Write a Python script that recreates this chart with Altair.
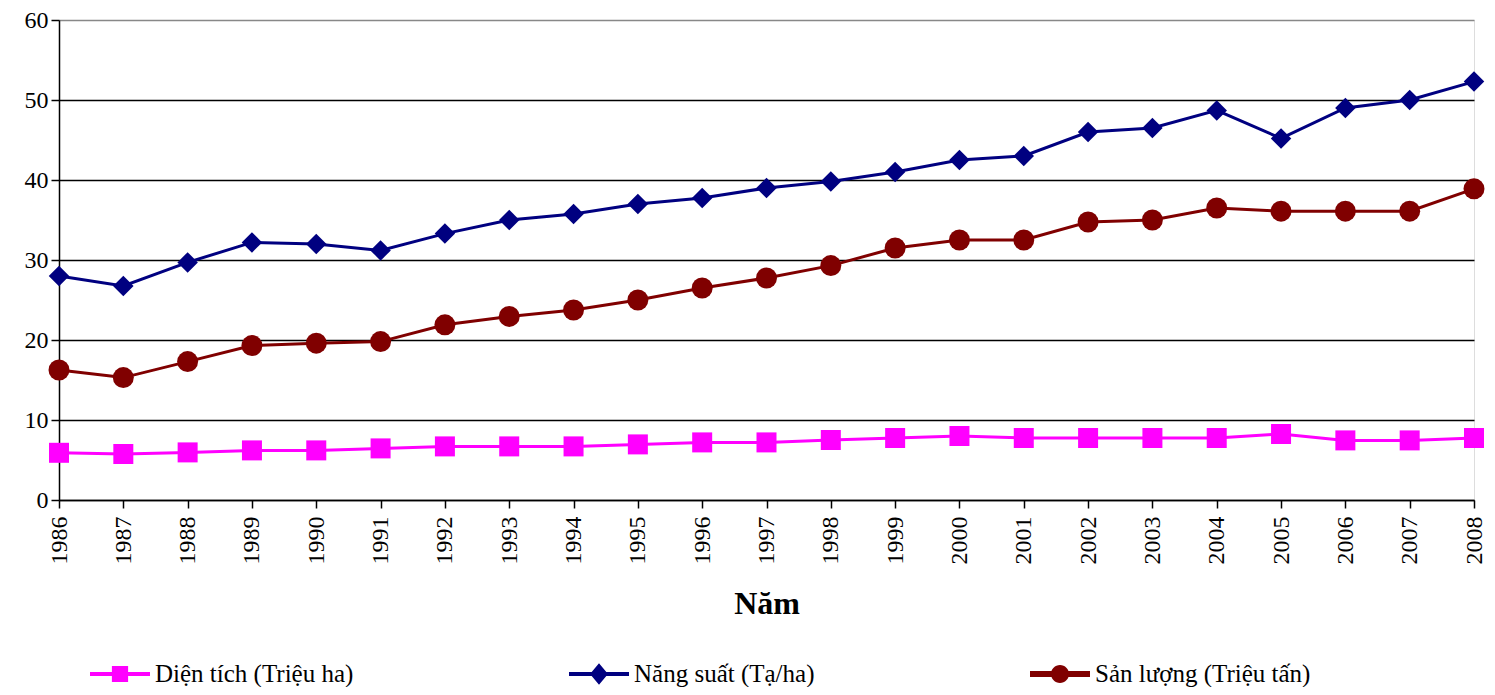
import altair as alt
import pandas as pd

years = list(range(1986, 2009))
dien_tich = [5.9, 5.75, 5.95, 6.2, 6.2, 6.45, 6.7, 6.7, 6.7, 6.95, 7.2, 7.2, 7.5, 7.75,
             8.0, 7.75, 7.75, 7.75, 7.75, 8.25, 7.45, 7.45, 7.75]
nang_suat = [28.0, 26.75, 29.7, 32.2, 32.0, 31.2, 33.3, 35.0, 35.75, 37.0, 37.75, 39.0,
             39.8, 41.0, 42.5, 43.0, 46.0, 46.5, 48.7, 45.2, 49.0, 50.0, 52.3]
san_luong = [16.25, 15.3, 17.3, 19.3, 19.6, 19.8, 21.9, 22.95, 23.75, 25.0, 26.5, 27.75,
             29.3, 31.5, 32.5, 32.5, 34.75, 35.0, 36.5, 36.1, 36.1, 36.1, 38.9]

series = ["Diện tích (Triệu ha)", "Năng suất (Tạ/ha)", "Sản lượng (Triệu tấn)"]
colors = ["#FF00FF", "#000080", "#800000"]
shapes = ["square", "diamond", "circle"]
sizes = [400, 440, 530]
widths = [3, 3, 5]
y_ticks = [0, 10, 20, 30, 40, 50, 60]

legend_paths = [
    "M-1,-0.07H1V0.07H-1Z M-0.27,-0.27H0.27V0.27H-0.27Z",
    "M-1,-0.07H1V0.07H-1Z M0,-0.36L0.3,0L0,0.36L-0.3,0Z",
    "M-1,-0.1H1V0.1H-1Z M-0.3,0A0.3,0.3 0 1,1 0.3,0A0.3,0.3 0 1,1 -0.3,0Z",
]

rows = []
for name, vals in zip(series, [dien_tich, nang_suat, san_luong]):
    for yr, v in zip(years, vals):
        rows.append({"year": yr, "series": name, "value": v})
df = pd.DataFrame(rows)

FONT = "'Liberation Serif', 'Times New Roman', serif"

x_enc = alt.X("year:Q",
              scale=alt.Scale(domain=[1986, 2008], nice=False, zero=False),
              axis=alt.Axis(values=years, format="d", labelAngle=-90,
                            labelFont=FONT, labelFontSize=24, labelColor="black",
                            labelPadding=8, tickColor="black", tickSize=8, tickWidth=1.5,
                            domainColor="black", domainWidth=1.5, grid=False,
                            title="Năm", titleFont=FONT, titleFontSize=32,
                            titleFontWeight="bold", titleColor="black", titlePadding=24))
y_enc = alt.Y("value:Q",
              scale=alt.Scale(domain=[0, 60], nice=False),
              axis=alt.Axis(values=y_ticks, labelFont=FONT, labelFontSize=24,
                            labelColor="black", labelPadding=3, tickColor="black",
                            tickSize=8, tickWidth=1.5, domainColor="black", domainWidth=1.5,
                            grid=True, gridWidth=1.5,
                            gridColor={"condition": {"test": "datum.value === 60", "value": "#888888"},
                                       "value": "black"},
                            title=None))

color_scale = alt.Scale(domain=series, range=colors)

lines = alt.Chart(df).mark_line().encode(
    x=x_enc, y=y_enc,
    color=alt.Color("series:N", scale=color_scale, legend=None),
    strokeWidth=alt.StrokeWidth("series:N", scale=alt.Scale(domain=series, range=widths), legend=None),
)

points = alt.Chart(df).mark_point(filled=True, opacity=1, strokeWidth=0).encode(
    x=x_enc, y=y_enc,
    color=alt.Color("series:N", scale=color_scale, legend=None),
    shape=alt.Shape("series:N", scale=alt.Scale(domain=series, range=shapes), legend=None),
    size=alt.Size("series:N", scale=alt.Scale(domain=series, range=sizes), legend=None),
)

legend_kw = dict(orient="none", legendX=31, legendY=624, direction="horizontal", title=None,
                 labelFont=FONT, labelFontSize=25, labelColor="black", labelOffset=5,
                 columnPadding=215, padding=0, symbolSize=3600, symbolStrokeWidth=0,
                 symbolOpacity=1, labelLimit=400)

legend_layer = alt.Chart(df).transform_filter("false").mark_point(filled=True, opacity=1).encode(
    x=x_enc, y=y_enc,
    color=alt.Color("series:N", scale=color_scale, legend=alt.Legend(**legend_kw)),
    shape=alt.Shape("series:N", scale=alt.Scale(domain=series, range=legend_paths),
                    legend=alt.Legend(**legend_kw)),
)

chart = alt.layer(lines, points, legend_layer).resolve_scale(
    color="independent", shape="independent"
).properties(
    width=1415, height=480,
    autosize=alt.AutoSizeParams(type="none"),
    padding={"left": 51, "top": 12, "right": 13, "bottom": 187},
).configure_view(stroke="#888888", strokeWidth=1.5).configure(background="white")

chart.save("out.html", embed_options={"renderer": "svg", "actions": False})
